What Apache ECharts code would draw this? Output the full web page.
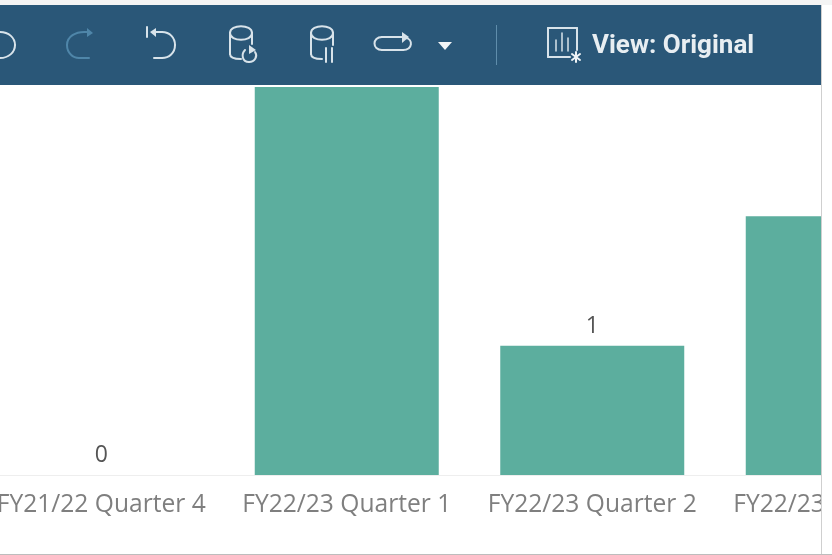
<!DOCTYPE html>
<html><head><meta charset="utf-8">
<style>html,body{margin:0;padding:0;background:#fff}#c{width:832px;height:555px}</style>
<script src="https://cdn.jsdelivr.net/npm/echarts@6/dist/echarts.min.js"></script>
</head><body><div id="c"></div>
<script>
const categories = ['FY21/22 Quarter 4','FY22/23 Quarter 1','FY22/23 Quarter 2','FY22/23 Quarter 3'];
const values = [0,3,1,2];
const labelsShown = [true,false,true,false];
const BAR='#5cae9e', BAND='#2a5778', ICON='#d8e3ea', DIM='#4f86a9';
// small M/L/C path helper -> graphic line and bezierCurve elements
function raw(d,c,w){
  const t=d.match(/[MLC]|-?[\d.]+/g);let i=0,x=0,y=0;const out=[];let cmd='';
  const st=()=>({stroke:c||ICON,lineWidth:w||2,fill:'none',lineCap:'round'});
  while(i<t.length){
    if(/^[MLC]$/.test(t[i]))cmd=t[i++];
    if(cmd==='M'){x=+t[i++];y=+t[i++];}
    else if(cmd==='L'){const a=+t[i++],b=+t[i++];out.push({type:'line',z:20,silent:true,shape:{x1:x,y1:y,x2:a,y2:b},style:st()});x=a;y=b;}
    else{const n=[];for(let k=0;k<6;k++)n.push(+t[i++]);out.push({type:'bezierCurve',z:20,silent:true,shape:{x1:x,y1:y,cpx1:n[0],cpy1:n[1],cpx2:n[2],cpy2:n[3],x2:n[4],y2:n[5]},style:st()});x=n[4];y=n[5];}
  }
  return out;
}
const tri=(pts,c)=>({type:'polygon',z:20,silent:true,shape:{points:pts},style:{fill:c||ICON}});
const chart=echarts.init(document.getElementById('c'));
chart.setOption({
 animation:false,
 grid:{left:-21.5,top:87,width:982,height:388,containLabel:false,outerBoundsMode:'none'},
 xAxis:{type:'category',data:categories,axisTick:{show:false},
  axisLine:{lineStyle:{color:'#eeeeee',width:1}},
  axisLabel:{color:'#7f7f7f',fontFamily:'Open Sans',fontSize:24.6,margin:17,interval:0,hideOverlap:false}},
 yAxis:{type:'value',min:0,max:3,interval:1,show:false},
 series:[{type:'bar',data:values.map((v,i)=>({value:v,label:{show:labelsShown[i]}})),barWidth:184,
  itemStyle:{color:BAR},
  label:{position:'top',color:'#555',fontFamily:'Open Sans',fontSize:23,distance:8}}],
 graphic:[
  {type:'rect',z:10,silent:true,shape:{x:821,y:0,width:11,height:555},style:{fill:'#fff'}},
  {type:'rect',z:11,silent:true,shape:{x:821,y:5,width:1,height:549},style:{fill:'#cfcfcf'}},
  {type:'rect',z:11,silent:true,shape:{x:0,y:554,width:832,height:1},style:{fill:'#bdbdbd'}},
  {type:'rect',z:10,silent:true,shape:{x:0,y:0,width:832,height:5},style:{fill:'#f4f4f4'}},
  {type:'rect',z:11,silent:true,shape:{x:0,y:5,width:821,height:80},style:{fill:BAND}},
  ...raw('M0 32 C9 32 15 38 15 45 C15 52 9 58 0 58'),
  ...raw('M87 32 C75 31 67 37 67 45 C67 53 73 58 79 58 L89 58',DIM),
  tri([[87,28],[93,33],[87,37]],DIM),
  ...raw('M147 27 L147 37'),
  tri([[150,32],[156,28],[156,37]]),
  ...raw('M155 32 L162 32 C170 32 175 38 175 45 C175 53 169 58 162 58 L154 58'),
  ...raw('M230 33 C230 24 252 24 252 33 C252 42 230 42 230 33 L230 54 C230 58 234 59 241 59'),
  ...raw('M252 33 L252 44'),
  ...raw('M245 50 C241 54 242 62 249 62 C255 62 258 56 255 52'),
  tri([[249,45],[256,50],[249,54]]),
  ...raw('M311 33 C311 24 333 24 333 33 C333 42 311 42 311 33 L311 54 C311 58 315 59 322 59'),
  ...raw('M333 33 L333 45'),
  ...raw('M326 48 L326 62 M332 48 L332 62'),
  ...raw('M402 37 L382 37 C372 37 372 50 382 50 L403 50 C413 50 413 39 406 38'),
  tri([[402,32],[409,37],[402,43]]),
  tri([[438,42],[452,42],[445,50]],'#f2f5f7'),
  {type:'rect',z:20,silent:true,shape:{x:496,y:25,width:1,height:40},style:{fill:'#5f8dab'}},
  ...raw('M577 50 L577 28 L548 28 L548 57 L570 57'),
  ...raw('M556 51 L556 40 M562 51 L562 33 M568 51 L568 38',ICON,1.5),
  ...raw('M576 52 L576 62 M572 54 L580 60 M580 54 L572 60','#eef3f6',2),
  {type:'text',z:20,silent:true,x:592,y:46,style:{text:'View: Original',fill:'#e8eef2',font:'bold 26px Roboto',textVerticalAlign:'middle',textAlign:'left'}}
 ]
});
</script></body></html>
